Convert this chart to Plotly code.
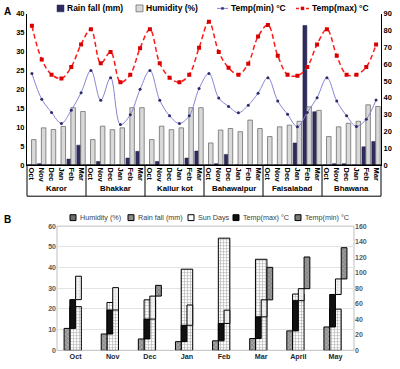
import plotly.graph_objects as go

W, H = 400, 369

# ---------------- Panel A data ----------------
locations = ["Karor", "Bhakkar", "Kallur kot", "Bahawalpur", "Faisalabad", "Bhawana"]
months_a = ["Oct", "Nov", "Dec", "Jan", "Feb", "Mar"]

rain_mm = [0, 0.8, 0, 0, 3.5, 11.8,
           0, 2.1, 0, 0, 4.1, 8.1,
           0, 2.1, 0, 0, 4.1, 8.3,
           0, 0.8, 6.3, 0, 0, 0,
           0, 0, 0, 13.1, 83, 31.7,
           0, 0.8, 0.8, 0, 10.8, 14.0]
humidity = [15.1, 22.1, 21.1, 22.9, 34.1, 31.8,
            15.1, 23.1, 21.0, 22.1, 34.1, 34.1,
            15.1, 23.1, 21.0, 22.1, 34.1, 34.1,
            13.1, 20.8, 21.7, 19.8, 26.7, 21.7,
            16.9, 22.7, 23.7, 26.0, 34.6, 32.5,
            16.9, 22.7, 24.8, 26.0, 35.8, 34.8]
temp_min = [24.2, 17.4, 13.9, 11.0, 14.5, 19.1,
            25.0, 17.1, 23.1, 10.7, 13.3, 20.0,
            25.0, 17.1, 13.0, 11.0, 13.0, 20.2,
            24.2, 17.7, 15.5, 13.8, 15.8, 19.0,
            23.1, 16.9, 13.4, 10.1, 13.9, 17.8,
            23.1, 16.9, 13.0, 10.2, 12.1, 17.2]
temp_max = [36.8, 27.9, 23.9, 22.9, 25.9, 31.9,
            35.9, 26.9, 29.9, 21.9, 23.9, 30.9,
            35.9, 26.9, 23.1, 21.9, 23.9, 31.0,
            37.9, 29.9, 25.7, 23.9, 26.8, 34.0,
            37.0, 28.9, 23.9, 23.6, 25.9, 31.9,
            35.9, 28.9, 23.9, 23.9, 25.9, 31.9]
legend_a = ["Rain fall (mm)", "Humidity (%)", "Temp(min) °C", "Temp(max) °C"]

# ---------------- Panel B data ----------------
months_b = ["Oct", "Nov", "Dec", "Jan", "Feb", "Mar", "April", "May"]
humidity_b = [10.6, 7.9, 5.5, 4.2, 4.6, 5.7, 9.4, 11.3]
rainfall_b = [21.1, 23.1, 24.4, 39.2, 54.2, 44.0, 27.2, 19.9]
tmax_b = [13.9, 11.6, 9.6, 7.9, 8.4, 10.5, 14.6, 15.7]
sun_b = [11.3, 10.8, 11.1, 9.8, 6.4, 8.2, 5.8, 7.5]
tmin_b = [None, None, 5.2, None, None, 15.7, 15.3, 15.1]
legend_b = ["Humidity (%)", "Rain fall (mm)", "Sun Days", "Temp(max) °C", "Temp(min) °C"]

# colours
C_RAIN = "#2E2B5F"
C_HUM = "#D9D9D9"
C_TMIN = "#8585D6"
C_TMIN_M = "#2E2B6A"
C_TMAX = "#FF1A1A"
C_TMAX_M = "#D90000"


def px_x(x):
    return x / W


def px_y(y):
    return 1 - y / H


FA = "Liberation Sans"
FB = "Liberation Sans"

fig = go.Figure()

n_m = len(months_a)
x_idx = list(range(len(locations) * n_m))
month_text = months_a * len(locations)

fig.add_bar(x=x_idx, y=rain_mm, name=legend_a[0], xaxis="x", yaxis="y",
            marker=dict(color=C_RAIN, line=dict(color="#1E1C40", width=0.5)),
            offset=-0.44, width=0.4)
fig.add_bar(x=x_idx, y=humidity, name=legend_a[1], xaxis="x", yaxis="y",
            marker=dict(color=C_HUM, line=dict(color="#6F6F6F", width=0.8)),
            offset=-0.04, width=0.46)
fig.add_scatter(x=x_idx, y=temp_min, name=legend_a[2], xaxis="x", yaxis="y2",
                mode="lines+markers",
                line=dict(color=C_TMIN, width=1, shape="spline"),
                marker=dict(color=C_TMIN_M, size=3))
fig.add_scatter(x=x_idx, y=temp_max, name=legend_a[3], xaxis="x", yaxis="y2",
                mode="lines+markers",
                line=dict(color=C_TMAX, width=1.5, dash="5px,3px", shape="spline"),
                marker=dict(color=C_TMAX_M, size=4, symbol="square"))

# Panel B: staircase columns
base_b = humidity_b
base_c = [a + b for a, b in zip(humidity_b, tmax_b)]
base_d = [a + b for a, b in zip(base_c, sun_b)]
cw = 0.155

fig.add_bar(x=months_b, y=rainfall_b, name=legend_b[1], xaxis="x2", yaxis="y3",
            offset=-cw, width=2 * cw,
            marker=dict(color="white", line=dict(color="black", width=1),
                        pattern=dict(shape="+", fgcolor="#6E6E6E", bgcolor="white",
                                     size=3, solidity=0.4)))
fig.add_bar(x=months_b, y=humidity_b, name=legend_b[0], xaxis="x2", yaxis="y3",
            offset=-2 * cw, width=cw,
            marker=dict(color="#8C8C8C", line=dict(color="black", width=1),
                        pattern=dict(shape="x", fgcolor="#3A3A3A", bgcolor="#A6A6A6",
                                     size=3, solidity=0.3)))
fig.add_bar(x=months_b, y=tmax_b, base=base_b, name=legend_b[3], xaxis="x2", yaxis="y3",
            offset=-cw, width=cw,
            marker=dict(color="#111111", line=dict(color="black", width=1)))
fig.add_bar(x=months_b, y=sun_b, base=base_c, name=legend_b[2], xaxis="x2", yaxis="y3",
            offset=0, width=cw,
            marker=dict(color="#F0F0F0", line=dict(color="black", width=1),
                        pattern=dict(shape=".", fgcolor="#BDBDBD", bgcolor="#F5F5F5",
                                     size=3, solidity=0.3)))
fig.add_bar(x=months_b, y=tmin_b, base=base_d, name=legend_b[4], xaxis="x2", yaxis="y3",
            offset=cw, width=cw,
            marker=dict(color="#8A8A8A", line=dict(color="black", width=1),
                        pattern=dict(shape="x", fgcolor="#4A4A4A", bgcolor="#9A9A9A",
                                     size=3, solidity=0.3)))
fig.add_scatter(x=[months_b[0]], y=[0], xaxis="x2", yaxis="y4", mode="markers",
                marker=dict(opacity=0), showlegend=False, hoverinfo="skip")

tfA = dict(family=FA, size=7.5, color="black", weight="bold")
tfB = dict(family=FB, size=7, color="#595959", weight="bold")

shapes = []
annotations = []

# ---- hand-placed legend keys (text stays real text) ----
ya = 4.5
shapes.append(dict(type="rect", xref="paper", yref="paper", x0=px_x(57), x1=px_x(64),
                   y0=px_y(ya + 3.5), y1=px_y(ya - 3.5), fillcolor=C_RAIN,
                   line=dict(color=C_RAIN, width=0.5)))
shapes.append(dict(type="rect", xref="paper", yref="paper", x0=px_x(136), x1=px_x(143),
                   y0=px_y(ya + 3.5), y1=px_y(ya - 3.5), fillcolor=C_HUM,
                   line=dict(color="#6F6F6F", width=0.8)))
shapes.append(dict(type="line", xref="paper", yref="paper", x0=px_x(217), x1=px_x(228),
                   y0=px_y(ya), y1=px_y(ya), line=dict(color=C_TMIN, width=1)))
shapes.append(dict(type="rect", xref="paper", yref="paper", x0=px_x(221.5), x1=px_x(223.5),
                   y0=px_y(ya + 1), y1=px_y(ya - 1), fillcolor=C_TMIN_M,
                   line=dict(color=C_TMIN_M, width=0.5)))
shapes.append(dict(type="line", xref="paper", yref="paper", x0=px_x(296), x1=px_x(309),
                   y0=px_y(ya), y1=px_y(ya), line=dict(color=C_TMAX, width=1.5, dash="3px,2px")))
shapes.append(dict(type="rect", xref="paper", yref="paper", x0=px_x(301), x1=px_x(304),
                   y0=px_y(ya + 1.5), y1=px_y(ya - 1.5), fillcolor=C_TMAX_M,
                   line=dict(color=C_TMAX_M, width=0.5)))
for xt, txt in zip([65, 144, 229, 310], legend_a):
    annotations.append(dict(text=txt, x=px_x(xt), y=px_y(ya), xref="paper", yref="paper",
                            xanchor="left", yanchor="middle", showarrow=False,
                            font=dict(family=FA, size=8.5, color="black", weight="bold")))

yb = 219
key_fill = ["#6E6E6E", "#8C8C8C", "white", "#111111", "#7A7A7A"]
key_x = [70, 128, 188, 233, 295]
for kx, kf, txt in zip(key_x, key_fill, legend_b):
    shapes.append(dict(type="rect", xref="paper", yref="paper", x0=px_x(kx), x1=px_x(kx + 6),
                       y0=px_y(yb + 3), y1=px_y(yb - 3), fillcolor=kf,
                       line=dict(color="black", width=1)))
    annotations.append(dict(text=txt, x=px_x(kx + 7.5), y=px_y(yb), xref="paper", yref="paper",
                            xanchor="left", yanchor="middle", showarrow=False,
                            font=dict(family=FB, size=7.2, color="#404040")))

annotations.append(dict(text="<b>A</b>", x=px_x(2), y=px_y(0), xref="paper", yref="paper",
                        xanchor="left", yanchor="top", showarrow=False,
                        font=dict(family="Liberation Sans", size=10, color="black")))
annotations.append(dict(text="<b>B</b>", x=px_x(2), y=px_y(213), xref="paper", yref="paper",
                        xanchor="left", yanchor="top", showarrow=False,
                        font=dict(family="Liberation Sans", size=10, color="black")))

# ---- location table under panel A ----
for k, loc in enumerate(locations):
    annotations.append(dict(text=loc, x=k * n_m + (n_m - 1) / 2, y=px_y(189),
                            xref="x", yref="paper", xanchor="center", yanchor="middle",
                            showarrow=False,
                            font=dict(family=FA, size=7.8, color="black", weight="bold")))
    if k > 0:
        shapes.append(dict(type="line", xref="x", yref="paper", x0=k * n_m - 0.5,
                           x1=k * n_m - 0.5, y0=px_y(197), y1=px_y(165),
                           line=dict(color="black", width=1)))
shapes.append(dict(type="rect", xref="x domain", yref="paper", x0=0, x1=1,
                   y0=px_y(197), y1=px_y(165), line=dict(color="black", width=1),
                   fillcolor="rgba(0,0,0,0)", layer="above"))
# panel B plot frame
shapes.append(dict(type="rect", xref="x2 domain", yref="y3 domain", x0=0, x1=1,
                   y0=0, y1=1, line=dict(color="#BFBFBF", width=1),
                   fillcolor="rgba(0,0,0,0)", layer="below"))

fig.update_layout(
    width=W, height=H,
    margin=dict(l=0, r=0, t=0, b=0),
    paper_bgcolor="white", plot_bgcolor="white",
    barmode="overlay",
    showlegend=False,
    xaxis=dict(domain=[px_x(27), px_x(381)], anchor="y", range=[-0.5, len(x_idx) - 0.5],
               tickmode="array", tickvals=x_idx, ticktext=month_text, tickangle=90,
               showline=True, linecolor="black", linewidth=1, ticks="",
               zeroline=False, showgrid=False,
               tickfont=dict(family=FA, size=7.5, color="black", weight="bold")),
    yaxis=dict(domain=[px_y(165), px_y(10)], anchor="x", range=[0, 90], dtick=10,
               side="right", showline=True, linecolor="black", linewidth=1,
               showgrid=False, zeroline=False, ticks="", tickfont=tfA),
    yaxis2=dict(overlaying="y", anchor="x", side="left", range=[0, 40], dtick=5,
                showline=True, linecolor="black", linewidth=1, showgrid=False,
                zeroline=False, ticks="", tickfont=tfA),
    xaxis2=dict(domain=[px_x(57), px_x(354)], anchor="y3", showline=False,
                ticks="", showgrid=False,
                tickfont=dict(family=FB, size=7.2, color="#262626", weight="bold")),
    yaxis3=dict(domain=[px_y(355), px_y(227.7)], anchor="x2", side="left",
                range=[0, 60], dtick=10, visible=True, showticklabels=True,
                showline=False, showgrid=True, gridcolor="#E3E3E3", gridwidth=1,
                zeroline=False, ticks="", tickfont=tfB),
    yaxis4=dict(overlaying="y3", anchor="x2", side="right", range=[0, 160], dtick=20,
                showgrid=False, zeroline=False, showline=False, ticks="", tickfont=tfB),
    annotations=annotations,
    shapes=shapes,
)

fig.write_html("out.html", config={"displayModeBar": False},
               post_script="document.body.style.margin='0';")
